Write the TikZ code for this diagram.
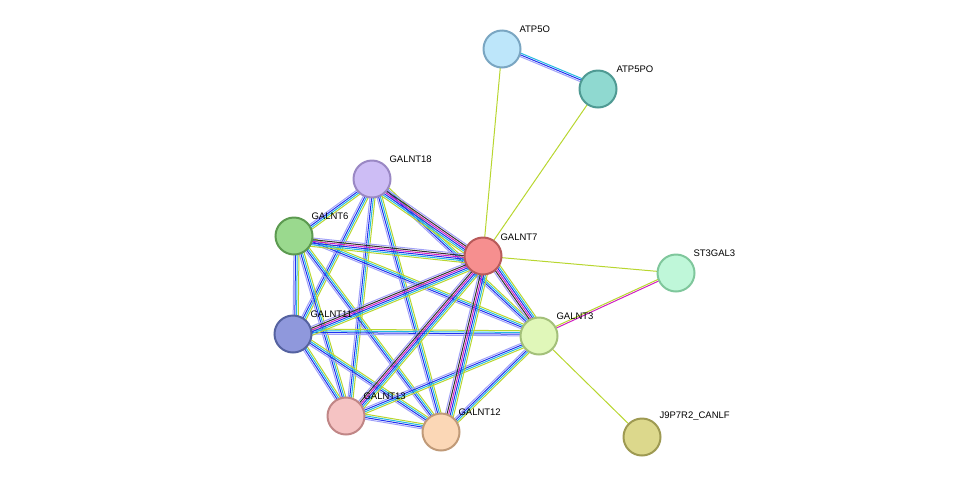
\documentclass[tikz,border=0pt]{standalone}
\usepackage{fontspec}
\setmainfont{Liberation Sans}
\usetikzlibrary{calc}
\definecolor{cTM}{HTML}{B8D630}
\definecolor{cDB}{HTML}{22B8E0}
\definecolor{cCO}{HTML}{2030F0}
\definecolor{cHO}{HTML}{A0A0F8}
\definecolor{cEX}{HTML}{D020C0}
\definecolor{cCX}{HTML}{303030}
\newcommand{\medge}[3]{%
 \foreach \cc [count=\i] in {#3} {%
   \pgfmathsetmacro{\o}{(\i-1)*1.7}%
   \draw[\cc,line width=1pt] ($(#1.center)!\o pt!90:(#2.center)$) -- ($(#2.center)!\o pt!-90:(#1.center)$);
 }}
\tikzset{nd/.style={circle,minimum size=37pt,line width=2pt,inner sep=0pt},
 lb/.style={font=\fontsize{9.5}{11}\selectfont,anchor=south west}}
\begin{document}
\begin{tikzpicture}[x=1pt,y=-1pt]
\useasboundingbox (0,0) rectangle (976,483);
\coordinate (ATP5O) at (502,49);
\coordinate (ATP5PO) at (598,89);
\coordinate (G18) at (372,179);
\coordinate (G6) at (294,236);
\coordinate (G7) at (483,256);
\coordinate (ST) at (676,273);
\coordinate (G11) at (293,334);
\coordinate (G3) at (539,336);
\coordinate (G13) at (346,416);
\coordinate (G12) at (441,432);
\coordinate (J9) at (642,437);
% edges
\medge{ATP5O}{ATP5PO}{cHO,cCO,cDB}
\medge{ATP5O}{G7}{cTM}
\medge{ATP5PO}{G7}{cTM}
\medge{G7}{ST}{cTM}
\medge{G3}{ST}{cEX,cTM}
\medge{G3}{J9}{cTM}
\foreach \a/\b in {G18/G6,G18/G11,G18/G3,G18/G13,G18/G12,G6/G11,G6/G3,G6/G13,G6/G12,G11/G3,G11/G13,G11/G12,G3/G13,G3/G12,G13/G12}{\medge{\a}{\b}{cHO,cCO,cDB,cTM}}
\foreach \a in {G18,G6,G11,G3,G13,G12}{\medge{G7}{\a}{cHO,cCX,cEX,cCO,cDB,cTM}}
% nodes
\node[nd,fill={rgb,255:red,189;green,230;blue,250},draw={rgb,255:red,122;green,166;blue,194}] (nATP5O) at (ATP5O) {};
\node[nd,fill={rgb,255:red,143;green,217;blue,208},draw={rgb,255:red,79;green,154;blue,147}] (nATP5PO) at (ATP5PO) {};
\node[nd,fill={rgb,255:red,205;green,189;blue,245},draw={rgb,255:red,154;green,136;blue,196}] (nG18) at (G18) {};
\node[nd,fill={rgb,255:red,154;green,217;blue,142},draw={rgb,255:red,92;green,154;blue,80}] (nG6) at (G6) {};
\node[nd,fill={rgb,255:red,246;green,143;blue,143},draw={rgb,255:red,184;green,90;blue,90}] (nG7) at (G7) {};
\node[nd,fill={rgb,255:red,191;green,247;blue,217},draw={rgb,255:red,127;green,199;blue,156}] (nST) at (ST) {};
\node[nd,fill={rgb,255:red,143;green,152;blue,220},draw={rgb,255:red,85;green,98;blue,160}] (nG11) at (G11) {};
\node[nd,fill={rgb,255:red,224;green,247;blue,185},draw={rgb,255:red,163;green,192;blue,122}] (nG3) at (G3) {};
\node[nd,fill={rgb,255:red,245;green,195;blue,195},draw={rgb,255:red,192;green,134;blue,134}] (nG13) at (G13) {};
\node[nd,fill={rgb,255:red,251;green,215;blue,182},draw={rgb,255:red,192;green,154;blue,120}] (nG12) at (G12) {};
\node[nd,fill={rgb,255:red,220;green,216;blue,140},draw={rgb,255:red,158;green,154;blue,82}] (nJ9) at (J9) {};
% labels
\node[lb] (lATP5O) at (516,36) {ATP5O};
\node[lb] (lATP5PO) at (613,76) {ATP5PO};
\node[lb] (lG18) at (386,166) {GALNT18};
\node[lb] (lG6) at (308,223) {GALNT6};
\node[lb] (lG7) at (497,244) {GALNT7};
\node[lb] (lST) at (690,260) {ST3GAL3};
\node[lb] (lG11) at (307,321) {GALNT11};
\node[lb] (lG3) at (553,323) {GALNT3};
\node[lb] (lG13) at (360,403) {GALNT13};
\node[lb] (lG12) at (455,419) {GALNT12};
\node[lb] (lJ9) at (656,424) {J9P7R2\_CANLF};
\end{tikzpicture}
\end{document}
